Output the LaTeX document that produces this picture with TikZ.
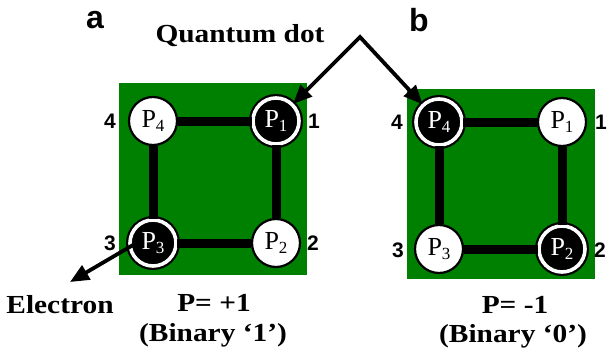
\documentclass[tikz,border=0pt]{standalone}
\usepackage{fontspec}
\setmainfont{Liberation Serif}
\newfontfamily\labfont{Liberation Sans}
\usetikzlibrary{arrows.meta}
\definecolor{board}{RGB}{0,128,0}
\newcommand{\Pdot}[1]{P\raisebox{-0.4ex}{\fontsize{17}{17}\selectfont #1}}
\tikzset{
  boardfill/.style={fill=board},
  wire/.style={line width=9pt, black},
  emptydot/.style={circle, minimum size=48pt, inner sep=0pt, fill=white, draw=black, line width=2.2pt,
    font=\fontsize{26}{26}\selectfont},
  fulldot/.style={circle, minimum size=46pt, inner sep=0pt, fill=black, draw=black, double=white,
    double distance=3.6pt, line width=2.2pt, text=white, font=\fontsize{26}{26}\selectfont},
  num/.style={font=\labfont\bfseries\fontsize{21}{21}\selectfont},
  panel/.style={font=\labfont\bfseries\fontsize{32}{32}\selectfont},
  captext/.style={font=\bfseries\fontsize{26}{26}\selectfont, xscale=1.13},
  arr/.style={line width=3.8pt, -{Triangle[length=19pt,width=16pt]}},
  darr/.style={line width=3.8pt, {Triangle[length=19pt,width=16pt]}-{Triangle[length=19pt,width=16pt]}, line join=miter},
}
\begin{document}
\begin{tikzpicture}[x=1pt,y=-1pt]
\useasboundingbox (0,0) rectangle (607,356);
% panel a
\fill[boardfill] (119,83) rectangle (307,275);
\node[fulldot]  (a1) at (276,121) {\Pdot{1}};
\node[emptydot] (a2) at (276,243) {\Pdot{2}};
\node[fulldot]  (a3) at (153,243) {\Pdot{3}};
\node[emptydot] (a4) at (153,121) {\Pdot{4}};
\draw[wire] (a4) -- (a1);
\draw[wire] (a1) -- (a2);
\draw[wire] (a2) -- (a3);
\draw[wire] (a3) -- (a4);
\node[num] (la1) at (314,121) {1};
\node[num] (la2) at (313,243) {2};
\node[num] (la3) at (110,243) {3};
\node[num] (la4) at (110,121) {4};
% panel b
\fill[boardfill] (407,89) rectangle (595,279);
\node[emptydot] (b1) at (562,122) {\Pdot{1}};
\node[fulldot]  (b2) at (562,249) {\Pdot{2}};
\node[emptydot] (b3) at (439,249) {\Pdot{3}};
\node[fulldot]  (b4) at (439,122) {\Pdot{4}};
\draw[wire] (b4) -- (b1);
\draw[wire] (b1) -- (b2);
\draw[wire] (b2) -- (b3);
\draw[wire] (b3) -- (b4);
\node[num] (lb1) at (601,122) {1};
\node[num] (lb2) at (600,250) {2};
\node[num] (lb3) at (398,250) {3};
\node[num] (lb4) at (397,122) {4};
% labels
\node[panel] (pa) at (95,20) {a};
\node[panel] (pb) at (419,20) {b};
\node[captext] (qd) at (240,36) {Quantum dot};
\coordinate (apex) at (360,37);
\draw[darr] (a1) -- (apex) -- (b4);
\coordinate (estart) at (133,245);
\coordinate (eend) at (70,282);
\draw[arr] (estart) -- (eend);
\node[captext] (el) at (60,305) {Electron};
\node[captext] (pp) at (214,303) {P= +1};
\node[captext] (bp) at (213,335) {(Binary ‘1’)};
\node[captext] (pm) at (515,305) {P= -1};
\node[captext] (bm) at (513,336) {(Binary ‘0’)};
\end{tikzpicture}
\end{document}
